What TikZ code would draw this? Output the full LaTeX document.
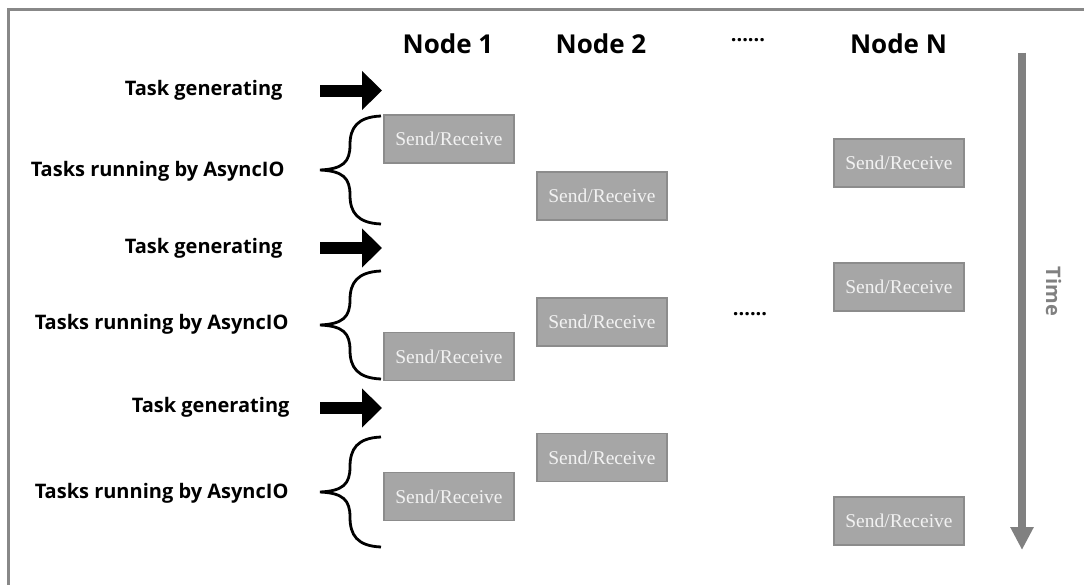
\documentclass[tikz,border=0pt]{standalone}
\usepackage{fontspec}
\setmainfont{Liberation Serif}
\newfontfamily\headfont{Open Sans}
\usepackage{xcolor}
\usetikzlibrary{arrows.meta}
\definecolor{framegray}{RGB}{136,136,136}
\definecolor{boxgray}{RGB}{166,166,166}
\definecolor{boxedge}{RGB}{140,140,140}
\definecolor{boxtext}{RGB}{242,242,242}
\definecolor{timegray}{RGB}{128,128,128}

\begin{document}
\begin{tikzpicture}[x=1pt,y=1pt,yscale=-1,
  srbox/.style={draw=boxedge, line width=1.3pt, fill=boxgray, minimum width=130pt, minimum height=48pt, inner sep=0pt, text=boxtext, font=\fontsize{19.5}{21}\selectfont},
  headtext/.style={font=\headfont\bfseries\fontsize{26}{30}\selectfont},
  lefttext/.style={font=\headfont\bfseries\fontsize{20}{24}\selectfont, anchor=base east},
  genarrow/.style={line width=12pt, -{Triangle[length=20pt,width=38pt]}},
  asyncbrace/.style={line width=2.8pt},
  timearrow/.style={draw=timegray, line width=8pt, -{Triangle[length=23pt,width=22pt]}}]
\useasboundingbox (0,0) rectangle (1084,584);

%Shape: Rectangle (frame)
\draw [framegray, line width=2.5pt] (8.6,9.5) rectangle (1100,600);

% Text Node (columns)
\node [headtext] (node1) at (448,44) {Node 1};
\node [headtext] (node2) at (601,44) {Node 2};
\node [headtext] (dotstop) at (748,40) {\fontsize{20}{20}\selectfont ......};
\node [headtext] (nodeN) at (898.5,44) {Node N};

% Text Node (left labels)
\node [lefttext] (gen1) at (286,95) {Task generating};
\node [lefttext] (run1) at (288,176) {Tasks running by AsyncIO};
\node [lefttext] (gen2) at (286,253) {Task generating};
\node [lefttext] (run2) at (292,329) {Tasks running by AsyncIO};
\node [lefttext] (gen3) at (293,412) {Task generating};
\node [lefttext] (run3) at (292,498) {Tasks running by AsyncIO};

%Straight Lines (task generating arrows)
\coordinate (gen1 tail) at (320,90.5); \coordinate (gen1 tip) at (382,90.5);
\coordinate (gen2 tail) at (320,248);  \coordinate (gen2 tip) at (382,248);
\coordinate (gen3 tail) at (320,408);  \coordinate (gen3 tip) at (382,408);
\draw [genarrow] (gen1 tail) -- (gen1 tip);
\draw [genarrow] (gen2 tail) -- (gen2 tip);
\draw [genarrow] (gen3 tail) -- (gen3 tip);

%Shape: Brace
\draw [asyncbrace, shift={(0,170)}] (381,-54) .. controls (357,-53) and (350,-42) .. (350,-25) .. controls (350,-8) and (343,-1) .. (320,0) .. controls (343,1) and (350,8) .. (350,25) .. controls (350,42) and (357,53) .. (381,54);
%Shape: Brace
\draw [asyncbrace, shift={(0,325)}] (381,-54) .. controls (357,-53) and (350,-42) .. (350,-25) .. controls (350,-8) and (343,-1) .. (320,0) .. controls (343,1) and (350,8) .. (350,25) .. controls (350,42) and (357,53) .. (381,54);
%Shape: Brace
\draw [asyncbrace, shift={(0,492)}] (381,-55) .. controls (357,-54) and (350,-43) .. (350,-25) .. controls (350,-8) and (343,-1) .. (320,0) .. controls (343,1) and (350,8) .. (350,25) .. controls (350,43) and (357,54) .. (381,55);

%Shape: Rectangle (send/receive)
\node [srbox] (sr1a) at (449,139) {Send/Receive};
\node [srbox] (sr2a) at (602,196) {Send/Receive};
\node [srbox] (srNa) at (899,163) {Send/Receive};
\node [srbox] (srNb) at (899,287) {Send/Receive};
\node [srbox] (sr2b) at (602,322) {Send/Receive};
\node [srbox] (sr1b) at (449,356.5) {Send/Receive};
\node [srbox] (sr2c) at (602,457.5) {Send/Receive};
\node [srbox] (sr1c) at (449,496.5) {Send/Receive};
\node [srbox] (srNc) at (899,521) {Send/Receive};

% Text Node
\node [headtext] (dotsmid) at (750,314) {\fontsize{20}{20}\selectfont ......};

%Straight Lines (time)
\coordinate (time start) at (1022,52.7);
\coordinate (time end) at (1022,550);
\draw [timearrow] (time start) -- (time end);
% Text Node
\node [font=\headfont\bfseries\fontsize{20}{22}\selectfont, text=timegray, rotate=-90] (timelabel) at (1053.5,291.5) {Time};

\end{tikzpicture}
\end{document}
